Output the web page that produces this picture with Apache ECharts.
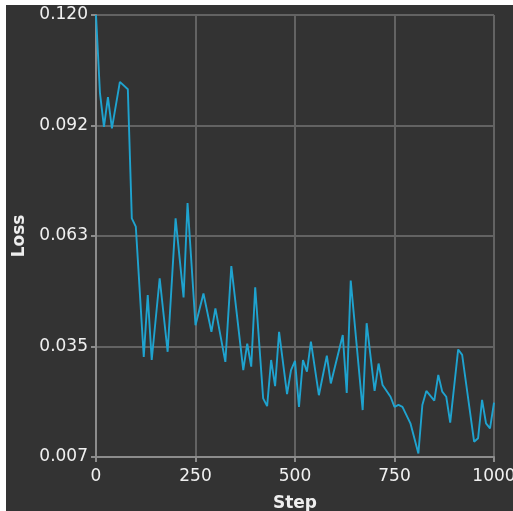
<!DOCTYPE html>
<html>
<head>
<meta charset="utf-8">
<script src="https://cdn.jsdelivr.net/npm/echarts@6/dist/echarts.min.js"></script>
<style>
html,body{margin:0;padding:0;background:#ffffff;width:513px;height:511px;overflow:hidden;}
#chart{position:absolute;left:6px;top:5px;width:507px;height:506px;}
</style>
</head>
<body>
<div id="chart"></div>
<script>
// Data
var steps = [0,10,20,30,40,60,80,90,100,120,130,140,160,180,200,220,230,250,270,290,300,325,
  340,370,380,390,400,420,430,440,450,460,480,490,500,510,520,530,540,560,580,590,620,630,640,
  670,680,700,710,720,740,750,760,770,790,810,820,830,850,860,870,880,890,910,920,950,960,970,980,990,1000];
var loss = [0.1200,0.1000,0.0914,0.0990,0.0910,0.1029,0.1010,0.0680,0.0659,0.0326,0.0484,0.0318,0.0527,0.0339,0.0680,0.0478,0.0719,0.0407,0.0488,0.0390,0.0450,0.0313,
  0.0558,0.0292,0.0360,0.0301,0.0504,0.0220,0.0200,0.0318,0.0251,0.0390,0.0231,0.0292,0.0316,0.0198,0.0318,0.0288,0.0365,0.0228,0.0329,0.0258,0.0382,0.0234,0.0521,
  0.0190,0.0412,0.0239,0.0309,0.0254,0.0224,0.0198,0.0203,0.0198,0.0156,0.0079,0.0203,0.0239,0.0214,0.0280,0.0237,0.0224,0.0158,0.0345,0.0331,0.0109,0.0118,0.0216,0.0156,0.0143,0.0209];
var yTickLabels = ['0.007','0.035','0.063','0.092','0.120'];
var xTickLabels = ['0','250','500','750','1000'];
var yMin = 0.007, yMax = 0.120, yInterval = (0.120 - 0.007) / 4;
var xMin = 0, xMax = 1000, xInterval = 250;

var pts = steps.map(function(s, i){ return [s, loss[i]]; });

var chart = echarts.init(document.getElementById('chart'), null, {renderer:'canvas'});
chart.setOption({
  backgroundColor: '#333333',
  animation: false,
  grid: {left: 90, right: 19, top: 10, bottom: 54, containLabel: false, outerBoundsMode: 'none'},
  xAxis: {
    type: 'value', min: xMin, max: xMax, interval: xInterval,
    name: 'Step', nameLocation: 'middle', nameGap: 38,
    nameTextStyle: {color: '#eeeeee', fontFamily: 'DejaVu Sans', fontSize: 17, fontWeight: 'bold'},
    axisLine: {show: true, lineStyle: {color: '#8c8c8c', width: 2}},
    axisTick: {show: true, length: 5, lineStyle: {color: '#8c8c8c', width: 2}},
    axisLabel: {color: '#f0f0f0', fontFamily: 'DejaVu Sans', fontSize: 17, margin: 11,
      formatter: function(v){ return xTickLabels[Math.round((v - xMin)/xInterval)]; }},
    splitLine: {show: true, lineStyle: {color: '#636363', width: 2}}
  },
  yAxis: {
    type: 'value', min: yMin, max: yMax, interval: yInterval,
    name: 'Loss', nameLocation: 'middle', nameGap: 67, nameRotate: 90,
    nameTextStyle: {color: '#eeeeee', fontFamily: 'DejaVu Sans', fontSize: 17, fontWeight: 'bold'},
    axisLine: {show: true, lineStyle: {color: '#8c8c8c', width: 2}},
    axisTick: {show: true, length: 5, lineStyle: {color: '#8c8c8c', width: 2}},
    axisLabel: {color: '#f0f0f0', fontFamily: 'DejaVu Sans', fontSize: 17, margin: 8,
      formatter: function(v){ return yTickLabels[Math.round((v - yMin)/yInterval)]; }},
    splitLine: {show: true, lineStyle: {color: '#636363', width: 2}}
  },
  series: [{
    type: 'line', data: pts, showSymbol: false, symbol: 'none',
    lineStyle: {color: '#1fa3cf', width: 1.9},
    clip: false
  }]
});
</script>
</body>
</html>
